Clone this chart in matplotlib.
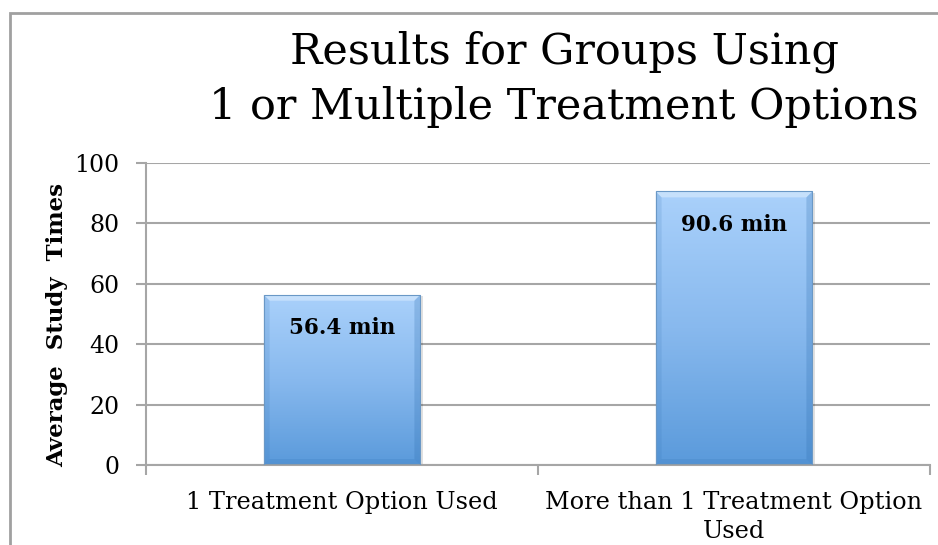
import matplotlib
matplotlib.use("Agg")
import matplotlib.pyplot as plt
import numpy as np
from matplotlib.patches import Rectangle, Polygon
from matplotlib.colors import LinearSegmentedColormap

categories = ["1 Treatment Option Used", "More than 1 Treatment Option\nUsed"]
values = [56.4, 90.6]
value_labels = ["56.4 min", "90.6 min"]
title = "Results for Groups Using\n1 or Multiple Treatment Options"
ylabel = "Average  Study  Times"
yticks = [0, 20, 40, 60, 80, 100]

SERIF = ["DejaVu Serif"]
GRAY = "#A6A6A6"

fig = plt.figure(figsize=(9.38, 5.45), dpi=100)
ax = fig.add_axes([146/938, 1-465/545, (930-146)/938, (465-163)/545])

# outer frame
fig.patches.append(Rectangle((10/938, -0.1), 1.2, 1 - 13/545 + 0.1, transform=fig.transFigure,
                             fill=False, edgecolor="#A0A0A0", lw=2.0, zorder=0))

ax.set_xlim(-0.5, 1.5)
ax.set_ylim(0, 100)
ax.set_yticks(yticks)
ax.yaxis.grid(True, color=GRAY, lw=1.5)
ax.set_axisbelow(True)
for s in ["top", "right"]:
    ax.spines[s].set_visible(False)
for s in ["left", "bottom"]:
    ax.spines[s].set_color(GRAY)
    ax.spines[s].set_linewidth(1.5)

ax.set_xticks(range(len(categories)))
ax.set_xticklabels(categories, fontsize=17.3, family=SERIF, linespacing=1.3)
ax.tick_params(axis="x", which="major", length=0, pad=19)
ax.set_xticks([-0.5, 0.5, 1.5], minor=True)
ax.tick_params(axis="x", which="minor", length=7, color=GRAY, width=1.5)
ax.tick_params(axis="y", length=7, color=GRAY, width=1.5, labelsize=17, pad=12)
for t in ax.get_yticklabels():
    t.set_family(SERIF)

ax.set_ylabel(ylabel, fontsize=16.5, family=SERIF, fontweight="bold")
ax.yaxis.set_label_coords((68 - 146) / 784, 1 - (325 - 163) / 302)

cmap = LinearSegmentedColormap.from_list("g", ["#5A9ADB", "#88B9EE", "#AAD1FB"])
width = 0.4
bars = ax.bar(range(len(values)), values, width=width, color="none",
              edgecolor="#6A98C6", lw=0.8, zorder=4)
grad = np.linspace(0, 1, 256).reshape(-1, 1)
# bevel size: ~6 px in data units
bx = 6 / 784 * 2.0
by = 6 / 302 * 100.0
for b in bars:
    x0, y0 = b.get_x(), b.get_y()
    x1, y1 = x0 + b.get_width(), y0 + b.get_height()
    # shadow
    ax.add_patch(Rectangle((x0 + bx * 0.4, y0 - by * 0.25), b.get_width(), b.get_height(),
                           color="#000000", alpha=0.12, lw=0, zorder=1.5))
    im = ax.imshow(grad, extent=[x0, x1, y0, y1],
                   origin="lower", cmap=cmap, aspect="auto", zorder=2)
    im.set_clip_path(b)
    # bevel strips
    ax.add_patch(Polygon([[x0, y1], [x1, y1], [x1 - bx, y1 - by], [x0 + bx, y1 - by]],
                         closed=True, color="white", alpha=0.35, lw=0, zorder=3))
    ax.add_patch(Polygon([[x0, y0], [x0, y1], [x0 + bx, y1 - by], [x0 + bx, y0 + by]],
                         closed=True, color="#2F6FB0", alpha=0.15, lw=0, zorder=3))
    ax.add_patch(Polygon([[x1, y0], [x1, y1], [x1 - bx, y1 - by], [x1 - bx, y0 + by]],
                         closed=True, color="#2F6FB0", alpha=0.25, lw=0, zorder=3))
    ax.add_patch(Polygon([[x0, y0], [x1, y0], [x1 - bx, y0 + by], [x0 + bx, y0 + by]],
                         closed=True, color="#2F6FB0", alpha=0.18, lw=0, zorder=3))

ax.set_xlim(-0.5, 1.5)
ax.set_ylim(0, 100)

for i, (v, lab) in enumerate(zip(values, value_labels)):
    ax.annotate(lab, (i, v), xytext=(0, -24), textcoords="offset points",
                ha="center", va="center", fontsize=15.5, fontweight="bold",
                family=SERIF, zorder=5)

fig.text(564/938, 1 - 79/545, title, ha="center", va="center", fontsize=31,
         family=SERIF, linespacing=1.4)

fig.savefig("out.png", dpi=100)
